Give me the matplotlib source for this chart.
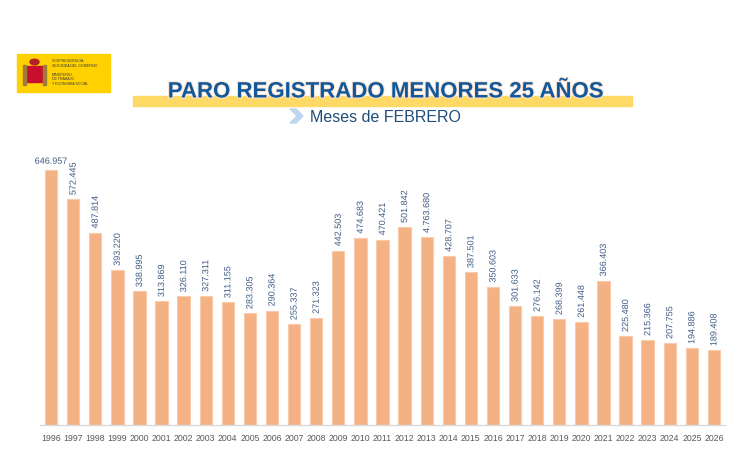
import matplotlib
matplotlib.use("Agg")
import matplotlib.pyplot as plt
import matplotlib.patches as mpatches
import matplotlib.patheffects as pe

plt.rcParams['font.family'] = ['Liberation Sans', 'DejaVu Sans']

years = list(range(1996, 2027))
values = [646957, 572445, 487814, 393220, 338995, 313869, 326110, 327311,
          311155, 283305, 290364, 255337, 271323, 442503, 474683, 470421,
          501842, 476368, 428707, 387501, 350603, 301633, 276142, 268399,
          261448, 366403, 225480, 215366, 207755, 194886, 189408]
labels = ['646.957', '572.445', '487.814', '393.220', '338.995', '313.869',
          '326.110', '327.311', '311.155', '283.305', '290.364', '255.337',
          '271.323', '442.503', '474.683', '470.421', '501.842', '4.763.680',
          '428.707', '387.501', '350.603', '301.633', '276.142', '268.399',
          '261.448', '366.403', '225.480', '215.366', '207.755', '194.886',
          '189.408']

W, H = 753, 460
fig = plt.figure(figsize=(W / 100, H / 100), dpi=100)

def fx(px):
    return px / W

def fy(py):
    return 1 - py / H

# chart area
ax = fig.add_axes([fx(40), fy(426), fx(725) - fx(40), fy(150) - fy(426)])
ax.bar(years, values, width=0.56, color='#F4B183', edgecolor='#F8CBAD', linewidth=0.8)
ax.set_xlim(1995.5, 2026.5)
ax.set_ylim(0, 700000)
for s in ['top', 'right', 'left']:
    ax.spines[s].set_visible(False)
ax.spines['bottom'].set_color('#D9D9D9')
ax.spines['bottom'].set_linewidth(1.0)
ax.set_yticks([])
ax.set_xticks(years)
ax.set_xticklabels([str(y) for y in years], fontsize=6.3, color='#595959')
ax.tick_params(axis='x', length=0, pad=6)

glow = [pe.withStroke(linewidth=1.5, foreground='white')]
for i, (yr, v, lab) in enumerate(zip(years, values, labels)):
    if i == 0:
        ax.annotate(lab, (yr, v), xytext=(0, 3), textcoords='offset points',
                    ha='center', va='bottom', fontsize=6.5, color='#3F5C85',
                    path_effects=glow)
    else:
        ax.annotate(lab, (yr, v), xytext=(0, 3), textcoords='offset points',
                    ha='center', va='bottom', rotation=90, fontsize=6.5,
                    color='#3F5C85', path_effects=glow)

# title band
fig.patches.append(mpatches.Rectangle((fx(133), fy(107)), fx(632) - fx(133), fy(97) - fy(107),
                                      transform=fig.transFigure, color='#FFD966', zorder=0))
fig.text(fx(386), fy(93), 'PARO REGISTRADO MENORES 25 AÑOS', ha='center', va='center',
         fontsize=16, fontweight='bold', color='#10589A',
         path_effects=[pe.withStroke(linewidth=1.5, foreground='#FBE3D6')])

# subtitle with chevron
chev = [(290, 110), (296, 110), (303, 117), (296, 124), (290, 124), (297, 117)]
fig.patches.append(mpatches.Polygon([(fx(x), fy(y)) for x, y in chev], closed=True,
                                    transform=fig.transFigure, color='#BDD7EE'))
fig.text(fx(310), fy(117), 'Meses de FEBRERO', ha='left', va='center',
         fontsize=11.5, color='#1F4E79')

# logo block
fig.patches.append(mpatches.Rectangle((fx(17), fy(93)), fx(110) - fx(17), fy(55) - fy(93),
                                      transform=fig.transFigure, color='#FFD100', zorder=1))
fig.patches.append(mpatches.Rectangle((fx(27), fy(83)), fx(15), fy(67) - fy(83),
                                      transform=fig.transFigure, color='#C8102E', zorder=2))
fig.patches.append(mpatches.Circle((fx(34.5), fy(63)), 0.006, transform=fig.transFigure,
                                   color='#B22222', zorder=2))
fig.patches.append(mpatches.Rectangle((fx(23), fy(86)), fx(3), fy(66) - fy(86),
                                      transform=fig.transFigure, color='#9E7B3A', zorder=2))
fig.patches.append(mpatches.Rectangle((fx(43), fy(86)), fx(3), fy(66) - fy(86),
                                      transform=fig.transFigure, color='#9E7B3A', zorder=2))
logo_lines = ['VICEPRESIDENCIA', 'SEGUNDA DEL GOBIERNO', '', 'MINISTERIO',
              'DE TRABAJO', 'Y ECONOMÍA SOCIAL']
for k, t in enumerate(logo_lines):
    fig.text(fx(52), fy(61 + k * 4.6), t, fontsize=2.6, color='#3a3a3a',
             ha='left', va='center', zorder=3)

fig.savefig('out.png', dpi=100)
